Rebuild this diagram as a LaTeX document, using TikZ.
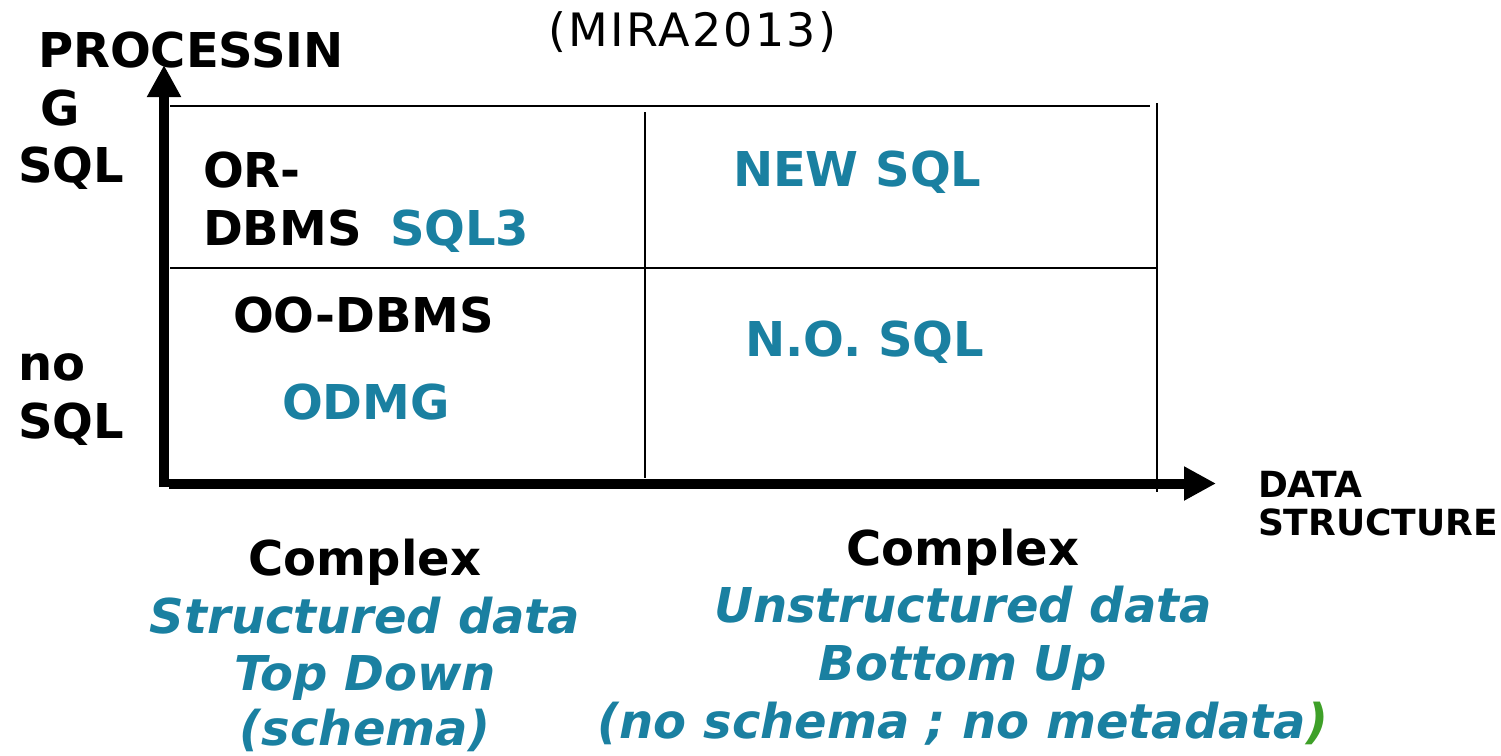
\documentclass[tikz,border=0pt]{standalone}
\usepackage{fontspec}
\setmainfont{DejaVu Sans}
\newfontfamily\titlefont[LetterSpace=5]{DejaVu Sans}
\usetikzlibrary{arrows.meta}
\definecolor{tealtxt}{RGB}{26,128,161}
\definecolor{greentxt}{RGB}{62,160,40}
\tikzset{
  lbl/.style={inner sep=0pt, outer sep=0pt, anchor=base west, font=\fontsize{48}{58}\selectfont\bfseries},
  lblc/.style={lbl, anchor=base},
  hl/.style={text=tealtxt},
  hli/.style={text=tealtxt, font=\fontsize{48}{58}\selectfont\bfseries\itshape},
  small/.style={font=\fontsize{36}{44}\selectfont\bfseries},
  axis/.style={line width=10pt, -{Triangle[width=32pt,length=32pt]}},
  grid/.style={line width=2.6pt}
}
\begin{document}
\begin{tikzpicture}[x=1pt,y=-1pt]
\useasboundingbox (0,0) rectangle (1501,755);

% grid of the four quadrants
\coordinate (tl) at (170,106);
\coordinate (tr) at (1150,106);
\coordinate (rt) at (1157,103);
\coordinate (rb) at (1157,492);
\coordinate (ml) at (170,268);
\coordinate (mr) at (1157,268);
\coordinate (mt) at (645,112);
\coordinate (mb) at (645,478);
\draw[grid] (tl) -- (tr);
\draw[grid] (rt) -- (rb);
\draw[grid] (ml) -- (mr);
\draw[grid] (mt) -- (mb);

% axes
\coordinate (vbot) at (164,487);
\coordinate (vtip) at (164,65);
\coordinate (hstart) at (169,483.5);
\coordinate (htip) at (1216,483.5);
\draw[axis] (vbot) -- (vtip);
\draw[axis] (hstart) -- (htip);

% title
\node[lbl, font=\fontsize{46}{54}\selectfont\titlefont] (src) at (548,46) {(MIRA2013)};

% vertical axis labels
\node[lbl] (proc1) at (38,67) {PROCESSIN};
\node[lbl] (proc2) at (40,125) {G};
\node[lbl] (sql) at (18,182) {SQL};
\node[lbl] (no1) at (18,380) {no};
\node[lbl] (no2) at (18,438) {SQL};

% horizontal axis label
\node[lbl, small] (data1) at (1258,497) {DATA};
\node[lbl, small] (data2) at (1258,535) {STRUCTURE};

% quadrant contents
\node[lbl] (or1) at (203,187) {OR-};
\node[lbl] (or2) at (203,245) {DBMS};
\node[lbl, hl] (sql3) at (390,245) {SQL3};
\node[lbl, hl] (newsql) at (733,186) {NEW SQL};
\node[lbl] (oodbms) at (233,332) {OO-DBMS};
\node[lbl, hl] (odmg) at (282,419) {ODMG};
\node[lbl, hl] (nosql) at (745,356) {N.O. SQL};

% captions under the horizontal axis
\node[lblc] (cx1) at (365,575) {Complex};
\node[lblc, hli] (sd) at (365,633) {Structured data};
\node[lblc, hli] (td) at (365,690) {Top Down};
\node[lblc, hli] (sc) at (365,745) {(schema)};

\node[lblc] (cx2) at (963,565) {Complex};
\node[lblc, hli] (ud) at (963,622) {Unstructured data};
\node[lblc, hli] (bu) at (963,680) {Bottom Up};
\node[lblc, hli] (nm) at (963,738) {(no schema ; no metadata\textcolor{greentxt}{)}};
\end{tikzpicture}
\end{document}
